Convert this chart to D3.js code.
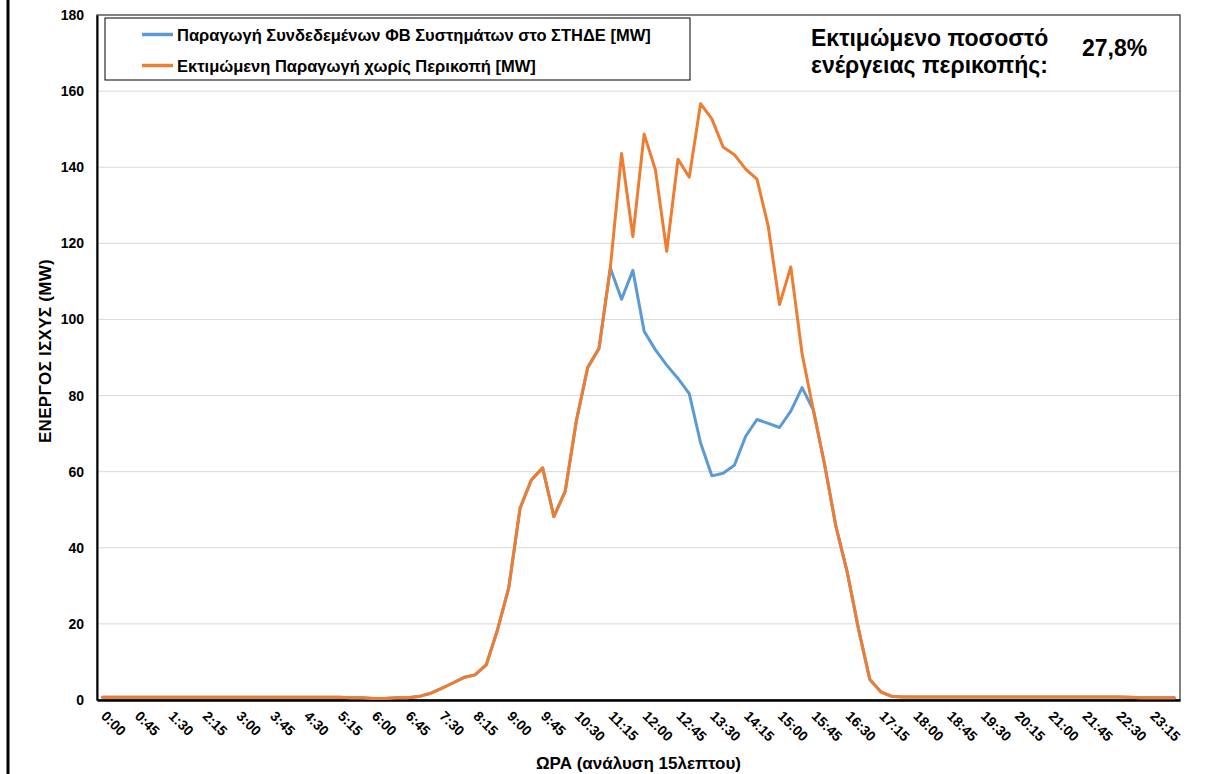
<!DOCTYPE html>
<html>
<head>
<meta charset="utf-8">
<script src="https://cdn.jsdelivr.net/npm/d3@7"></script>
<style>
  html, body { margin: 0; padding: 0; background: #fff; }
  svg { display: block; font-family: Arial, "Liberation Sans", sans-serif; }
</style>
</head>
<body>
<script>
// 15-minute categories
const times = [
  "0:00","0:15","0:30","0:45","1:00","1:15","1:30","1:45","2:00","2:15","2:30","2:45",
  "3:00","3:15","3:30","3:45","4:00","4:15","4:30","4:45","5:00","5:15","5:30","5:45",
  "6:00","6:15","6:30","6:45","7:00","7:15","7:30","7:45","8:00","8:15","8:30","8:45",
  "9:00","9:15","9:30","9:45","10:00","10:15","10:30","10:45","11:00","11:15","11:30","11:45",
  "12:00","12:15","12:30","12:45","13:00","13:15","13:30","13:45","14:00","14:15","14:30","14:45",
  "15:00","15:15","15:30","15:45","16:00","16:15","16:30","16:45","17:00","17:15","17:30","17:45",
  "18:00","18:15","18:30","18:45","19:00","19:15","19:30","19:45","20:00","20:15","20:30","20:45",
  "21:00","21:15","21:30","21:45","22:00","22:15","22:30","22:45","23:00","23:15","23:30","23:45"
];

const xTickLabels = [
  "0:00","0:45","1:30","2:15","3:00","3:45","4:30","5:15","6:00","6:45","7:30","8:15",
  "9:00","9:45","10:30","11:15","12:00","12:45","13:30","14:15","15:00","15:45","16:30","17:15",
  "18:00","18:45","19:30","20:15","21:00","21:45","22:30","23:15"
];

const yTicks = [0, 20, 40, 60, 80, 100, 120, 140, 160, 180];

// Παραγωγή Συνδεδεμένων ΦΒ (MW)
const pvConnected = [
  0.7,0.7,0.7,0.7,0.7,0.7,0.7,0.7,0.7,0.7,0.7,0.7,
  0.7,0.7,0.7,0.7,0.7,0.7,0.7,0.7,0.7,0.7,0.6,0.6,
  0.4,0.4,0.6,0.6,0.9,1.7,3.0,4.4,5.9,6.6,9.2,18.4,
  29.5,50.4,57.8,61.0,48.2,54.8,73.5,87.4,92.4,113.5,105.3,112.9,
  96.9,92.0,88.0,84.5,80.5,67.6,58.9,59.6,61.7,69.3,73.7,72.7,
  71.6,75.9,82.1,76.2,61.8,45.6,33.6,18.7,5.4,2.1,0.9,0.8,
  0.8,0.8,0.8,0.8,0.8,0.8,0.8,0.8,0.8,0.8,0.8,0.8,
  0.8,0.8,0.8,0.8,0.8,0.8,0.8,0.7,0.6,0.6,0.6,0.6
];

// Εκτιμώμενη Παραγωγή χωρίς Περικοπή (MW)
const pvNoCurtail = [
  0.7,0.7,0.7,0.7,0.7,0.7,0.7,0.7,0.7,0.7,0.7,0.7,
  0.7,0.7,0.7,0.7,0.7,0.7,0.7,0.7,0.7,0.7,0.6,0.6,
  0.4,0.4,0.6,0.6,0.9,1.7,3.0,4.4,5.9,6.6,9.2,18.4,
  29.5,50.4,57.8,61.0,48.2,54.8,73.5,87.4,92.4,113.5,143.6,121.8,
  148.7,139.3,117.9,142.1,137.4,156.7,152.7,145.3,143.3,139.5,136.9,124.5,
  103.9,113.8,91.0,76.2,61.8,45.6,33.6,18.7,5.4,2.1,0.9,0.8,
  0.8,0.8,0.8,0.8,0.8,0.8,0.8,0.8,0.8,0.8,0.8,0.8,
  0.8,0.8,0.8,0.8,0.8,0.8,0.8,0.7,0.6,0.6,0.6,0.6
];

const seriesNames = [
  "Παραγωγή Συνδεδεμένων ΦΒ Συστημάτων στο ΣΤΗΔΕ [MW]",
  "Εκτιμώμενη Παραγωγή χωρίς Περικοπή [MW]"
];
const seriesColors = ["#5b9bd5", "#ed7d31"];

// layout
const w = 1205, h = 774;
const plot = { left: 97, right: 1180, top: 15, bottom: 700 };

const svg = d3.select("body").append("svg").attr("width", w).attr("height", h);

// outer frame edge
svg.append("line")
  .attr("x1", 8).attr("x2", 8).attr("y1", 0).attr("y2", h)
  .attr("stroke", "#000").attr("stroke-width", 3);

// scales
const xScale = d3.scalePoint().domain(times).range([plot.left, plot.right]).padding(0.5);
const yScale = d3.scaleLinear().domain([0, 180]).range([plot.bottom, plot.top]);

// gridlines
svg.append("g")
  .selectAll("line")
  .data(yTicks.filter((d) => d > 0 && d < 180))
  .join("line")
  .attr("x1", plot.left).attr("x2", plot.right)
  .attr("y1", (d) => yScale(d)).attr("y2", (d) => yScale(d))
  .attr("stroke", "#d9d9d9").attr("stroke-width", 1);

// plot border
svg.append("rect")
  .attr("x", plot.left).attr("y", plot.top)
  .attr("width", plot.right - plot.left).attr("height", plot.bottom - plot.top)
  .attr("fill", "none").attr("stroke", "#404040").attr("stroke-width", 1.3);

// y axis
const yAxis = d3.axisLeft(yScale).tickValues(yTicks).tickSize(0).tickPadding(13);
svg.append("g")
  .attr("transform", `translate(${plot.left},0)`)
  .call(yAxis)
  .call((g) => g.select(".domain").attr("stroke", "#000").attr("stroke-width", 2))
  .call((g) => g.selectAll("text")
    .attr("font-size", 14).attr("font-weight", "bold").attr("fill", "#000")
    .attr("font-family", "Arial, 'Liberation Sans', sans-serif"));

// x axis
const xAxis = d3.axisBottom(xScale).tickValues(xTickLabels).tickSize(0);
svg.append("g")
  .attr("transform", `translate(0,${plot.bottom})`)
  .call(xAxis)
  .call((g) => g.select(".domain").attr("stroke", "#000").attr("stroke-width", 2.5))
  .call((g) => g.selectAll("text")
    .attr("font-size", 14).attr("font-weight", "bold").attr("fill", "#000")
    .attr("font-family", "Arial, 'Liberation Sans', sans-serif")
    .attr("text-anchor", "start")
    .attr("dy", null)
    .attr("y", 0)
    .attr("transform", "translate(-3,17) rotate(45)"));

// lines
const line = d3.line()
  .x((d, i) => xScale(times[i]))
  .y((d) => yScale(d));

[pvConnected, pvNoCurtail].forEach((s, k) => {
  svg.append("path")
    .datum(s)
    .attr("fill", "none")
    .attr("stroke", seriesColors[k])
    .attr("stroke-width", 3)
    .attr("stroke-linejoin", "round")
    .attr("stroke-linecap", "round")
    .attr("d", line);
});

// axis titles
svg.append("text")
  .attr("x", (plot.left + plot.right) / 2).attr("y", 769)
  .attr("text-anchor", "middle")
  .attr("font-size", 17).attr("font-weight", "bold")
  .text("ΩΡΑ (ανάλυση 15λεπτου)");

svg.append("text")
  .attr("transform", "translate(51,351) rotate(-90)")
  .attr("text-anchor", "middle")
  .attr("font-size", 17).attr("font-weight", "bold")
  .attr("letter-spacing", 0.3)
  .text("ΕΝΕΡΓΟΣ ΙΣΧΥΣ (MW)");

// legend
const legend = svg.append("g");
legend.append("rect")
  .attr("x", 105).attr("y", 18).attr("width", 585).attr("height", 62)
  .attr("fill", "#fff").attr("stroke", "#000").attr("stroke-width", 1);

seriesNames.forEach((name, k) => {
  const ly = 34.5 + k * 31;
  legend.append("line")
    .attr("x1", 142).attr("x2", 173).attr("y1", ly).attr("y2", ly)
    .attr("stroke", seriesColors[k]).attr("stroke-width", 3.5);
  legend.append("text")
    .attr("x", 177).attr("y", ly + 6)
    .attr("font-size", 16.5).attr("font-weight", "bold")
    .text(name);
});

// curtailment note
svg.append("text")
  .attr("x", 811).attr("y", 46)
  .attr("font-size", 23).attr("font-weight", "bold")
  .text("Εκτιμώμενο ποσοστό");
svg.append("text")
  .attr("x", 811).attr("y", 73)
  .attr("font-size", 23).attr("font-weight", "bold")
  .text("ενέργειας περικοπής:");
svg.append("text")
  .attr("x", 1082).attr("y", 56)
  .attr("font-size", 23).attr("font-weight", "bold")
  .text("27,8%");
</script>
</body>
</html>
